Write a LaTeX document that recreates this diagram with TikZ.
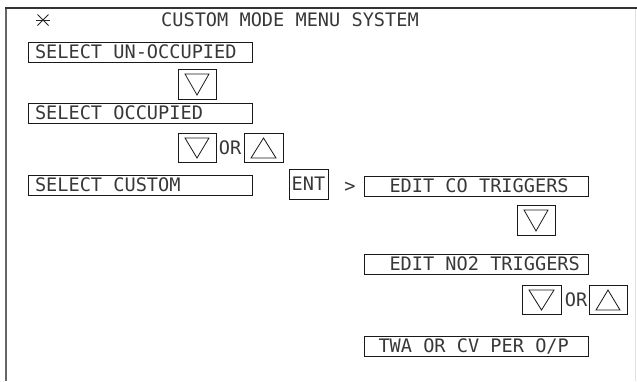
\documentclass[tikz,border=0pt]{standalone}
\usepackage{fontspec}
\setmonofont{DejaVu Sans Mono}
\begin{document}
\begin{tikzpicture}[x=1pt,y=-1pt,
  every node/.style={font=\ttfamily\fontsize{18.6}{20}\selectfont, text=black!78},
  menubox/.style={draw=black!90, line width=0.8pt, minimum width=224pt, minimum height=20pt,
    inner ysep=0pt, text height=13.5pt, text depth=0pt},
  leftbox/.style={menubox, inner xsep=7pt},
  rightbox/.style={menubox, inner xsep=0pt},
  btn/.style={draw=black!90, line width=0.8pt, minimum width=38pt, minimum height=30pt, inner sep=0pt},
  downbtn/.style={btn, path picture={\draw[line width=0.8pt]
    ([shift={(7pt,-5pt)}]path picture bounding box.north west) --
    ([shift={(-7pt,-5pt)}]path picture bounding box.north east) --
    ([shift={(0pt,4pt)}]path picture bounding box.south) -- cycle;}},
  upbtn/.style={btn, path picture={\draw[line width=0.8pt]
    ([shift={(7pt,4pt)}]path picture bounding box.south west) --
    ([shift={(-7pt,4pt)}]path picture bounding box.south east) --
    ([shift={(0pt,-5pt)}]path picture bounding box.north) -- cycle;}},
  plain/.style={inner sep=0pt, text height=13.5pt, text depth=0pt},
  starline/.style={line width=0.8pt, black!85}
]
\useasboundingbox (0,0) rectangle (637,381);
% frame
\draw[black!60, line width=2pt] (6,7) -- (6,381);
\draw[black!80, line width=1.2pt] (5,8) -- (637,8);
\draw[black!12, line width=1pt] (635,9) -- (635,381);

% title
\coordinate (star) at (43,20);
\draw[starline] ([shift={(-7pt,0pt)}]star) -- ([shift={(7pt,0pt)}]star);
\draw[starline] ([shift={(-5.5pt,-5.5pt)}]star) -- ([shift={(5.5pt,5.5pt)}]star);
\draw[starline] ([shift={(-5.5pt,5.5pt)}]star) -- ([shift={(5.5pt,-5.5pt)}]star);
\node[plain, anchor=west] (title) at (161,20) {CUSTOM MODE MENU SYSTEM};

% left column
\node[leftbox] (b1) at (140,52) {\makebox[210pt][l]{SELECT UN-OCCUPIED}};
\node[downbtn] (d1) at (197,84) {};
\node[leftbox] (b2) at (140,113) {\makebox[210pt][l]{SELECT OCCUPIED}};
\node[downbtn, minimum height=29pt] (d2) at (197,147.5) {};
\node[plain] (or1) at (230,148) {OR};
\node[upbtn, minimum width=39pt, minimum height=29pt] (u1) at (263.5,147.5) {};
\node[leftbox] (b3) at (140,185) {\makebox[210pt][l]{SELECT CUSTOM}};

% ENT
\node[btn, minimum width=39pt, text height=13.5pt, text depth=0pt] (ent) at (308.5,184) {ENT};
\node[plain] (gt) at (350,186) {>};

% right column
\node[rightbox] (e1) at (476.5,186) {\makebox[224pt][l]{\hspace{25pt}EDIT CO TRIGGERS}};
\node[downbtn] (d3) at (536,220) {};
\node[rightbox] (e2) at (476.5,264) {\makebox[224pt][l]{\hspace{25pt}EDIT NO2 TRIGGERS}};
\node[downbtn, minimum width=39pt, minimum height=29pt] (d4) at (541.5,299.5) {};
\node[plain] (or2) at (576,300) {OR};
\node[upbtn, minimum height=29pt] (u2) at (608,299.5) {};
\node[rightbox] (e3) at (476.5,346) {\makebox[224pt][l]{\hspace{14pt}TWA OR CV PER O/P}};
\end{tikzpicture}
\end{document}
